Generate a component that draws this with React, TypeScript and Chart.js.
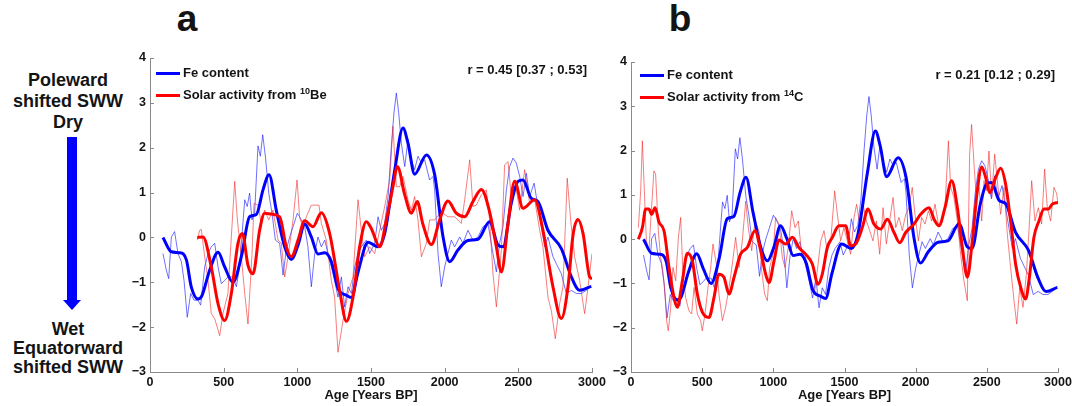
import React, { useEffect, useRef } from 'react';
import { Chart, registerables } from 'chart.js';

Chart.register(...registerables);

const FONT = '"Liberation Sans", Arial, Helvetica, sans-serif';

// Axis ticks
const xTickValues = [0, 500, 1000, 1500, 2000, 2500, 3000];
const yTickValues = [-3, -2, -1, 0, 1, 2, 3, 4];

// Fe content, thin (raw) series [age BP, value]
const feRaw: [number, number][] = [
  [88, -0.36], [111, -0.73], [127, -0.92], [145, 0.01], [167, 0.13], [190, -0.36], [213, -0.54], [231, -0.96],
  [253, -1.78], [276, -1.25], [299, -1.4], [326, -1.4], [344, -1.51], [371, -0.66], [394, -0.36], [416, -0.21],
  [439, -0.13], [462, -0.66], [484, -1.03], [507, -0.96], [529, -0.88], [563, -0.88], [586, -1.1], [608, -0.66],
  [627, 0.16], [643, 0.84], [660, 0.69], [676, 0.99], [692, 0.39], [710, 0.54], [733, 2.04], [749, 1.81],
  [765, 2.29], [783, 1.81], [806, 0.99], [828, 0.54], [851, -0.06], [880, -0.13], [903, -0.84], [925, -0.28],
  [948, 0.01], [971, 0.24], [1000, 0.54], [1016, 0.46], [1050, 0.24], [1072, -0.21], [1095, -1.1], [1118, -0.36],
  [1140, 0.01], [1163, -0.21], [1186, -0.06], [1208, -0.36], [1231, -0.66], [1253, -0.96], [1276, -1.33], [1299, -0.88],
  [1321, -1.55], [1344, -1.1], [1367, -1.25], [1389, -0.66], [1412, -0.36], [1434, -0.21], [1468, -0.06], [1491, -0.36],
  [1525, -0.13], [1548, 0.46], [1570, 0.16], [1593, 0.31], [1616, 0.91], [1638, 2.03], [1656, 2.78], [1672, 3.22],
  [1688, 2.78], [1706, 2.1], [1729, 1.58], [1751, 2.18], [1774, 1.73], [1796, 1.51], [1819, 1.81], [1842, 1.66],
  [1864, 1.73], [1898, 1.28], [1921, 1.36], [1932, 1.06], [1955, -0.36], [1977, -1.1], [2000, -0.66], [2022, -0.36],
  [2045, -0.06], [2068, -0.21], [2102, 0.01], [2124, -0.13], [2158, 0.16], [2192, -0.06], [2226, 0.01], [2260, 0.24],
  [2294, 0.31], [2328, -0.36], [2351, -0.77], [2373, -0.13], [2396, 0.24], [2419, 1.06], [2441, 1.58], [2464, 1.77],
  [2486, 1.66], [2509, 1.36], [2532, 0.91], [2554, 1.43], [2577, 0.91], [2607, 1.21], [2633, 0.69], [2656, 0.24],
  [2679, -0.21], [2701, 0.01], [2735, -0.43], [2769, -0.66], [2792, -0.81], [2826, -1.25], [2860, -1.18], [2894, -1.25],
  [2928, -1.25], [2961, -1.18], [2995, -1.07],
];

// Fe content, thick (smoothed) series
const feSmooth: [number, number][] = [
  [88, 0.0], [145, -0.32], [200, -0.34], [247, -0.5], [280, -1.1], [326, -1.37], [348, -1.33], [405, -0.73],
  [462, -0.33], [507, -0.66], [563, -1.0], [620, -0.43], [676, 0.46], [722, 0.51], [767, 1.06], [808, 1.4],
  [857, 0.61], [914, -0.21], [959, -0.49], [1005, -0.17], [1050, 0.3], [1095, 0.01], [1140, -0.37], [1186, -0.34],
  [1231, -0.54], [1276, -1.14], [1333, -1.29], [1367, -1.34], [1412, -0.77], [1480, -0.11], [1548, -0.21], [1593, 0.09],
  [1661, 1.5], [1717, 2.44], [1751, 2.1], [1796, 1.41], [1876, 1.84], [1932, 1.4], [1989, 0.01], [2034, -0.54],
  [2090, -0.28], [2158, -0.07], [2226, -0.04], [2305, 0.35], [2362, -0.17], [2396, -0.21], [2452, 0.76], [2498, 1.25],
  [2532, 1.28], [2588, 0.87], [2633, 0.8], [2701, 0.16], [2792, -0.25], [2860, -0.88], [2916, -1.18], [2995, -1.09],
];

// Solar activity from 10Be, thin (raw)
const be10Raw: [number, number][] = [
  [321, -0.06], [337, 0.16], [348, 0.18], [371, -0.43], [394, -0.96], [416, -1.7], [439, -1.81], [473, -2.19],
  [495, -1.7], [529, -1.25], [552, 0.01], [575, 1.25], [593, 0.39], [620, -0.43], [643, -1.25], [665, -1.93],
  [692, -0.4], [706, 0.76], [733, 0.72], [756, 0.31], [778, 0.61], [806, 0.39], [835, 0.61], [869, -0.06],
  [891, -0.13], [914, -0.88], [937, -0.43], [971, 0.39], [998, 1.28], [1016, 0.43], [1039, 0.24], [1061, 0.46],
  [1095, 0.72], [1147, 0.72], [1163, 0.31], [1197, -0.06], [1231, -0.96], [1253, -1.33], [1276, -2.56], [1310, -1.85],
  [1344, -1.25], [1378, -0.88], [1412, 0.84], [1434, 0.16], [1457, -0.43], [1491, -0.21], [1525, -0.36], [1559, 0.16],
  [1593, 0.69], [1627, 1.28], [1649, 2.48], [1672, 1.13], [1695, 1.13], [1717, 1.36], [1751, 0.84], [1774, 0.61],
  [1796, 0.91], [1819, 0.39], [1842, -0.43], [1876, -0.13], [1898, 0.39], [1932, 0.39], [1977, 0.57], [2022, 0.46],
  [2068, 0.46], [2113, 0.31], [2136, 0.84], [2170, 1.73], [2192, 0.69], [2215, 0.72], [2249, 0.95], [2283, 1.06],
  [2305, 0.39], [2328, -0.81], [2351, -1.55], [2385, -0.28], [2407, 1.62], [2430, 1.69], [2452, 0.91], [2475, 1.28],
  [2509, 0.61], [2543, 1.51], [2577, 0.76], [2611, 0.84], [2645, 0.16], [2667, -0.21], [2701, -1.33], [2724, -1.63],
  [2751, -2.26], [2780, -1.48], [2803, -1.1], [2832, 1.32], [2855, 0.39], [2882, -0.43], [2916, -0.96], [2950, -1.7],
  [2973, -1.1], [3000, -0.36],
];

// Solar activity from 10Be, thick (smoothed)
const be10Smooth: [number, number][] = [
  [321, 0.0], [360, 0.01], [416, -0.66], [462, -1.48], [507, -1.85], [552, -1.25], [597, -0.13], [627, 0.09],
  [665, -0.62], [699, -0.81], [744, 0.16], [778, 0.54], [824, 0.52], [880, 0.46], [925, -0.21], [959, -0.43],
  [1005, -0.06], [1050, 0.37], [1106, 0.24], [1163, 0.55], [1219, 0.09], [1287, -1.18], [1333, -1.87], [1378, -1.33],
  [1423, -0.21], [1468, 0.35], [1502, 0.2], [1559, -0.21], [1604, 0.39], [1649, 1.13], [1679, 1.58], [1729, 0.95],
  [1774, 0.54], [1814, 0.8], [1851, 0.31], [1910, -0.16], [1966, 0.39], [2022, 0.81], [2079, 0.54], [2136, 0.46],
  [2192, 0.8], [2249, 1.07], [2305, 0.57], [2351, -0.21], [2385, -0.77], [2430, 0.31], [2475, 1.25], [2532, 0.65],
  [2611, 0.84], [2667, 0.16], [2735, -1.1], [2792, -1.81], [2837, -1.1], [2871, 0.05], [2905, 0.4], [2939, 0.09],
  [2984, -0.88], [3000, -0.92],
];

// Solar activity from 14C, thin (raw)
const c14Raw: [number, number][] = [
  [52, 0.26], [68, 1.09], [80, 2.22], [91, 1.32], [108, -0.04], [126, -0.26], [143, 0.64], [161, 1.54],
  [173, 1.47], [192, 0.19], [208, -0.41], [220, -0.64], [236, -1.09], [250, -1.84], [262, -2.07], [279, -1.54],
  [295, -0.64], [314, -0.94], [333, 0.04], [349, 0.49], [365, -0.79], [384, -1.32], [407, -1.62], [426, -1.69],
  [443, -1.09], [466, -1.69], [489, -1.84], [501, -2.07], [520, -1.69], [541, -1.09], [560, -0.64], [576, -0.11],
  [600, -0.56], [618, -1.24], [642, -1.84], [665, -1.54], [689, -1.09], [712, -0.56], [735, 0.04], [759, -0.64],
  [782, -0.04], [806, 0.86], [824, 0.26], [848, -0.26], [871, 0.41], [899, 0.19], [918, -0.71], [939, -1.24],
  [958, -1.39], [974, -0.64], [998, -0.34], [1016, 0.49], [1040, 0.34], [1063, -0.41], [1082, -0.64], [1105, -0.19],
  [1129, 0.64], [1152, 0.26], [1176, 0.41], [1199, -0.34], [1222, -0.34], [1246, -0.79], [1269, -0.94], [1288, -1.24],
  [1309, -0.71], [1333, -0.04], [1356, 0.19], [1379, -0.26], [1403, -0.04], [1431, 1.09], [1450, 0.56], [1473, -0.04],
  [1496, 0.26], [1520, -0.04], [1543, -0.34], [1567, 0.49], [1585, 0.79], [1607, 0.34], [1630, 0.79], [1654, 0.41],
  [1677, 0.19], [1700, -0.04], [1724, 0.41], [1747, -0.34], [1771, 0.71], [1794, -0.11], [1817, 0.41], [1841, 0.94],
  [1860, 0.26], [1883, 0.49], [1906, 0.19], [1930, 0.56], [1953, 0.71], [1976, 1.17], [1995, 0.56], [2019, -0.04],
  [2042, 0.49], [2066, 0.34], [2089, 0.64], [2112, 0.41], [2136, 0.79], [2159, 0.34], [2183, 0.41], [2206, 0.71],
  [2230, 2.22], [2246, 1.17], [2269, 0.94], [2293, 0.41], [2316, -0.34], [2339, -0.94], [2363, -1.39], [2379, 1.92],
  [2393, 2.59], [2410, 1.69], [2426, 0.94], [2445, 1.17], [2464, 0.41], [2480, 1.32], [2497, 1.09], [2515, 1.99],
  [2534, 0.94], [2555, 1.92], [2574, 1.32], [2597, 0.56], [2621, 1.17], [2644, 0.11], [2667, -0.64], [2691, -1.39],
  [2710, -1.92], [2731, -1.09], [2754, -1.54], [2778, -0.79], [2796, 0.19], [2815, 1.32], [2838, 0.41], [2862, 0.71],
  [2885, 0.34], [2906, 1.58], [2925, 0.71], [2948, 0.41], [2972, 1.17], [2991, 1.02], [3000, 0.79],
];

// Solar activity from 14C, thick (smoothed)
const c14Smooth: [number, number][] = [
  [52, 0.0], [80, 0.26], [103, 0.68], [126, 0.68], [145, 0.56], [169, 0.71], [197, 0.38], [232, 0.19],
  [267, -0.64], [302, -1.32], [325, -1.54], [361, -0.94], [396, -0.32], [431, -0.49], [466, -1.24], [501, -1.65],
  [548, -1.77], [583, -1.32], [618, -0.79], [653, -0.86], [689, -1.24], [724, -0.86], [770, -0.34], [817, -0.19],
  [871, 0.19], [911, -0.26], [946, -0.79], [970, -0.98], [1005, -0.49], [1040, -0.02], [1087, -0.11], [1134, 0.04],
  [1180, -0.19], [1227, -0.34], [1274, -0.56], [1314, -1.02], [1344, -0.79], [1379, -0.19], [1415, 0.04], [1461, 0.3],
  [1508, 0.3], [1543, -0.15], [1578, -0.11], [1625, 0.26], [1665, 0.68], [1707, 0.34], [1754, 0.23], [1801, 0.45],
  [1848, 0.15], [1888, -0.08], [1930, 0.15], [1988, 0.34], [2035, 0.56], [2094, 0.71], [2129, 0.45], [2164, 0.3],
  [2206, 0.71], [2253, 1.32], [2293, 0.71], [2328, -0.19], [2363, -0.86], [2398, -0.04], [2433, 1.09], [2464, 1.63],
  [2492, 1.39], [2520, 1.05], [2562, 1.39], [2597, 1.6], [2632, 1.24], [2667, 0.41], [2702, -0.56], [2738, -1.09],
  [2773, -1.35], [2796, -0.94], [2831, 0.04], [2866, 0.41], [2902, 0.68], [2932, 0.68], [2960, 0.79], [3000, 0.83],
];

const BLUE = '#0000ff';
const RED = '#ff0000';
const AXIS_COLOR = '#8a8a8a';
const TEXT_COLOR = '#141414';

const toXY = (arr: [number, number][]) => arr.map(([x, y]) => ({ x, y }));

const inwardTicks = {
  id: 'inwardTicks',
  afterDatasetsDraw(chart: any) {
    const { ctx, chartArea } = chart;
    const xs = chart.scales.x;
    const ys = chart.scales.y;
    ctx.save();
    ctx.strokeStyle = AXIS_COLOR;
    ctx.lineWidth = 1;
    ctx.beginPath();
    xs.ticks.forEach((t: any) => {
      const px = Math.round(xs.getPixelForValue(t.value)) + 0.5;
      ctx.moveTo(px, chartArea.bottom);
      ctx.lineTo(px, chartArea.bottom - 4);
    });
    ys.ticks.forEach((t: any) => {
      const py = Math.round(ys.getPixelForValue(t.value)) + 0.5;
      ctx.moveTo(chartArea.left, py);
      ctx.lineTo(chartArea.left + 4, py);
    });
    ctx.stroke();
    ctx.restore();
  },
};

type PanelProps = {
  left: number;
  top: number;
  width: number;
  height: number;
  padTop: number;
  padRight: number;
  yWidth: number;
  redLabel: string;
  redRaw: [number, number][];
  redSmooth: [number, number][];
};

function Panel(p: PanelProps) {
  const ref = useRef<HTMLCanvasElement | null>(null);
  useEffect(() => {
    if (!ref.current) return;
    const chart = new Chart(ref.current, {
      type: 'line',
      data: {
        datasets: [
          {
            label: 'Fe content',
            data: toXY(feSmooth),
            borderColor: BLUE,
            backgroundColor: BLUE,
            borderWidth: 3,
            pointRadius: 0,
            tension: 0.4,
            cubicInterpolationMode: 'monotone',
            order: 1,
          },
          {
            label: p.redLabel,
            data: toXY(p.redSmooth),
            borderColor: RED,
            backgroundColor: RED,
            borderWidth: 3,
            pointRadius: 0,
            tension: 0.4,
            cubicInterpolationMode: 'monotone',
            order: 0,
          },
          {
            label: 'Fe content (raw)',
            data: toXY(feRaw),
            borderColor: 'rgba(30,30,255,0.8)',
            borderWidth: 0.8,
            pointRadius: 0,
            tension: 0,
            order: 3,
          },
          {
            label: p.redLabel + ' (raw)',
            data: toXY(p.redRaw),
            borderColor: 'rgba(240,40,40,0.75)',
            borderWidth: 0.8,
            pointRadius: 0,
            tension: 0,
            order: 2,
          },
        ],
      },
      options: {
        responsive: false,
        animation: false,
        devicePixelRatio: 1,
        layout: { padding: { left: 0, top: p.padTop, right: p.padRight, bottom: 0 } },
        plugins: {
          tooltip: { enabled: false },
          legend: { display: false },
        },
        scales: {
          x: {
            type: 'linear',
            min: 0,
            max: 3000,
            afterBuildTicks: (s: any) => {
              s.ticks = xTickValues.map((v) => ({ value: v }));
            },
            afterFit: (s: any) => {
              s.height = 34;
              s.paddingRight = 0;
            },
            grid: { display: false, drawTicks: false },
            border: { display: true, color: AXIS_COLOR, width: 1 },
            ticks: {
              padding: 3,
              color: TEXT_COLOR,
              maxRotation: 0,
              font: { family: FONT, size: 12.5, weight: 'bold' },
              callback: (v: any) => String(v),
            },
            title: {
              display: true,
              text: 'Age [Years BP]',
              color: TEXT_COLOR,
              padding: { top: 0, bottom: 3 },
              font: { family: FONT, size: 13, weight: 'bold' },
            },
          },
          y: {
            type: 'linear',
            min: -3,
            max: 4,
            afterBuildTicks: (s: any) => {
              s.ticks = yTickValues.map((v) => ({ value: v }));
            },
            afterFit: (s: any) => {
              s.width = p.yWidth;
            },
            grid: { display: false, drawTicks: false },
            border: { display: true, color: AXIS_COLOR, width: 1 },
            ticks: {
              padding: 4,
              color: TEXT_COLOR,
              font: { family: FONT, size: 12.5, weight: 'bold' },
              callback: (v: any) => (v < 0 ? '\u2212' + Math.abs(v) : String(v)),
            },
          },
        },
      },
      plugins: [inwardTicks],
    } as any);
    return () => chart.destroy();
  }, []);
  return (
    <canvas
      ref={ref}
      width={p.width}
      height={p.height}
      style={{ position: 'absolute', left: p.left, top: p.top, width: p.width, height: p.height }}
    />
  );
}

const textStyle: React.CSSProperties = {
  position: 'absolute',
  fontFamily: FONT,
  fontWeight: 'bold',
  color: TEXT_COLOR,
  whiteSpace: 'nowrap',
};

const supStyle: React.CSSProperties = {
  fontSize: 9,
  verticalAlign: 'baseline',
  position: 'relative',
  top: -5,
};

function LegendRow(props: { x: number; y: number; color: string; children: React.ReactNode }) {
  return (
    <>
      <div style={{ position: 'absolute', left: props.x, top: props.y - 1.5, width: 24, height: 3, background: props.color }} />
      <div style={{ ...textStyle, left: props.x + 27, top: props.y - 8, fontSize: 13, lineHeight: '16px' }}>{props.children}</div>
    </>
  );
}

export default function App() {
  return (
    <div style={{ position: 'absolute', left: 0, top: 0, width: 1072, height: 406, background: '#fff', overflow: 'hidden' }}>
      {/* left annotation panel */}
      <div style={{ ...textStyle, left: 0, top: 70, width: 136, textAlign: 'center', fontSize: 18, lineHeight: '21px' }}>
        Poleward<br />shifted SWW<br />Dry
      </div>
      <div style={{ position: 'absolute', left: 67, top: 137, width: 10, height: 164, background: BLUE }} />
      <div
        style={{
          position: 'absolute',
          left: 63,
          top: 300,
          width: 0,
          height: 0,
          borderLeft: '9px solid transparent',
          borderRight: '9px solid transparent',
          borderTop: '10px solid ' + BLUE,
        }}
      />
      <div style={{ ...textStyle, left: 0, top: 320, width: 136, textAlign: 'center', fontSize: 18, lineHeight: '19px' }}>
        Wet<br />Equatorward<br />shifted SWW
      </div>

      {/* panel letters */}
      <div style={{ ...textStyle, left: 170, top: 0, width: 34, textAlign: 'center', fontSize: 37, lineHeight: '37px' }}>a</div>
      <div style={{ ...textStyle, left: 663, top: 0, width: 34, textAlign: 'center', fontSize: 37, lineHeight: '37px' }}>b</div>

      <Panel
        left={100}
        top={40}
        width={520}
        height={366}
        padTop={18}
        padRight={28}
        yWidth={50}
        redLabel={'Solar activity from 10Be'}
        redRaw={be10Raw}
        redSmooth={be10Smooth}
      />
      <Panel
        left={580}
        top={40}
        width={492}
        height={366}
        padTop={22}
        padRight={14}
        yWidth={51}
        redLabel={'Solar activity from 14C'}
        redRaw={c14Raw}
        redSmooth={c14Smooth}
      />

      {/* legends */}
      <LegendRow x={156} y={73} color={BLUE}>Fe content</LegendRow>
      <LegendRow x={156} y={95} color={RED}>
        Solar activity from <sup style={supStyle}>10</sup>Be
      </LegendRow>
      <LegendRow x={640} y={75} color={BLUE}>Fe content</LegendRow>
      <LegendRow x={640} y={97} color={RED}>
        Solar activity from <sup style={supStyle}>14</sup>C
      </LegendRow>

      {/* correlation labels */}
      <div style={{ ...textStyle, right: 1072 - 587, top: 62, fontSize: 13, lineHeight: '15px' }}>r = 0.45 [0.37 ; 0.53]</div>
      <div style={{ ...textStyle, right: 1072 - 1055, top: 67, fontSize: 13, lineHeight: '15px' }}>r = 0.21 [0.12 ; 0.29]</div>
    </div>
  );
}
